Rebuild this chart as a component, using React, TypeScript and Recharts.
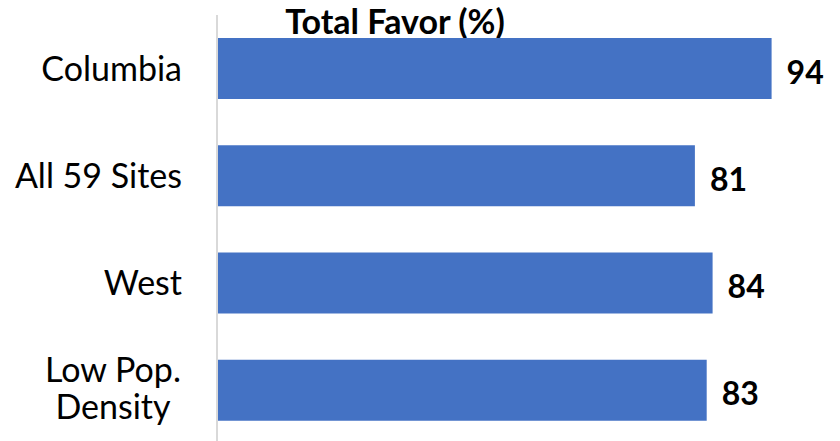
import { BarChart, Bar, XAxis, YAxis, LabelList } from 'recharts';

const categories = ['Columbia', 'All 59 Sites', 'West', 'Low Pop.\nDensity'];
const favorValues = [94, 81, 84, 83];

const data = categories.map((name, i) => ({ name, favor: favorValues[i] }));

const FONT = 'Lato, "Open Sans", sans-serif';

const CategoryTick = ({ x, y, payload }: any) => {
  const lines: string[] = String(payload.value).split('\n');
  if (lines.length === 1) {
    return (
      <text x={x - 27} y={y} dy={12} textAnchor="end" fontSize={34} fontFamily={FONT} fill="#000">
        {lines[0]}
      </text>
    );
  }
  const cx = x - 27 - 69;
  return (
    <text x={cx} y={y} textAnchor="middle" fontSize={34} fontFamily={FONT} fill="#000">
      {lines.map((line, i) => (
        <tspan key={i} x={cx} dy={i === 0 ? -8 : 37}>
          {line}
        </tspan>
      ))}
    </text>
  );
};

const ValueLabel = ({ x, y, width, height, value }: any) => (
  <text
    x={x + width + 15}
    y={y + height / 2}
    dy={15}
    textAnchor="start"
    fontSize={32}
    fontWeight="bold"
    fontFamily={FONT}
    fill="#000"
  >
    {value}
  </text>
);

export default function App() {
  return (
    <div style={{ position: 'absolute', left: 0, top: 0, width: 840, height: 441, overflow: 'hidden', background: '#fff' }}>
      <div
        style={{
          position: 'absolute',
          left: 395,
          top: 1,
          transform: 'translateX(-50%)',
          fontFamily: FONT,
          fontWeight: 'bold',
          fontSize: 34,
          whiteSpace: 'nowrap',
          color: '#000',
          lineHeight: '40px',
        }}
      >
        Total Favor (%)
      </div>
      <BarChart
        width={840}
        height={445}
        data={data}
        layout="vertical"
        margin={{ top: 15, right: 33, bottom: 1, left: 0 }}
      >
        <XAxis type="number" domain={[0, 100]} hide />
        <YAxis
          type="category"
          dataKey="name"
          width={217}
          axisLine={{ stroke: '#d9d9d9', strokeWidth: 2 }}
          tickLine={false}
          tick={<CategoryTick />}
          interval={0}
        />
        <Bar dataKey="favor" fill="#4472C4" barSize={61} isAnimationActive={false}>
          <LabelList dataKey="favor" content={<ValueLabel />} />
        </Bar>
      </BarChart>
    </div>
  );
}
